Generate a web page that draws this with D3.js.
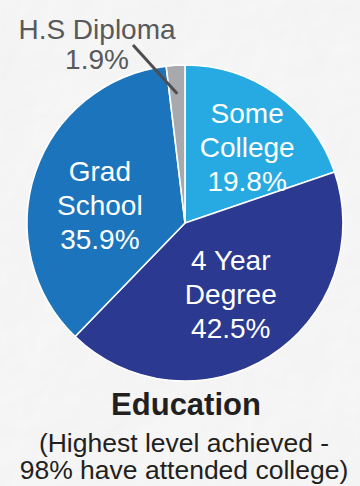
<!DOCTYPE html>
<html>
<head>
<meta charset="utf-8">
<script src="https://cdn.jsdelivr.net/npm/d3@7"></script>
<style>
  html, body { margin: 0; padding: 0; background: #f4f4f4; }
  svg { display: block; }
  text { font-family: "Liberation Sans", Arial, Helvetica, sans-serif; }
</style>
</head>
<body>
<svg id="chart" width="360" height="486"></svg>
<script>
// Education breakdown (highest level achieved)
const categories = ["Some College", "4 Year Degree", "Grad School", "H.S Diploma"];
const values = [19.8, 42.5, 35.9, 1.9];
const nameLines = [["Some", "College"], ["4 Year", "Degree"], ["Grad", "School"], ["H.S Diploma"]];
const colors = ["#27AAE1", "#2B3990", "#1C75BC", "#A7A9AC"];
const title = "Education";
const subtitle = ["(Highest level achieved -", "98% have attended college)"];

const W = 360, H = 486;
const cx = 185, cy = 223, R = 158;
const fmt = v => d3.format(".1f")(v) + "%";

// small hand adjustments of the in-slice label blocks (px)
const labelNudge = {
  "Some College": [8, 0],
  "4 Year Degree": [-4, -8],
  "Grad School": [3, 12]
};

const svg = d3.select("#chart");
const defs = svg.append("defs");

// crumpled paper backdrop
const f = defs.append("filter").attr("id", "paper")
  .attr("x", 0).attr("y", 0).attr("width", "100%").attr("height", "100%");
f.append("feTurbulence").attr("type", "fractalNoise").attr("baseFrequency", 0.011)
  .attr("numOctaves", 4).attr("seed", 11).attr("result", "noise");
f.append("feDiffuseLighting").attr("in", "noise").attr("lighting-color", "#ffffff")
  .attr("surfaceScale", 3).attr("result", "light")
  .append("feDistantLight").attr("azimuth", 225).attr("elevation", 62);

svg.append("rect").attr("width", W).attr("height", H).attr("fill", "#f7f7f7");
svg.append("rect").attr("width", W).attr("height", H)
  .attr("filter", "url(#paper)").attr("opacity", 0.32);

const data = categories.map((c, i) => ({ name: c, value: values[i], lines: nameLines[i], color: colors[i] }));

const pie = d3.pie().sort(null).value(d => d.value).startAngle(0).endAngle(2 * Math.PI);
const arcs = pie(data);

const arc = d3.arc().innerRadius(0).outerRadius(R);
const labelArc = d3.arc().innerRadius(93).outerRadius(93);

const g = svg.append("g").attr("transform", `translate(${cx},${cy})`);

g.selectAll("path.slice")
  .data(arcs)
  .join("path")
  .attr("class", "slice")
  .attr("d", arc)
  .attr("fill", d => d.data.color)
  .attr("stroke", "#ffffff")
  .attr("stroke-width", 1.6)
  .attr("stroke-linejoin", "round");

// inside labels for the three large slices
const lineH = 34;
const inside = arcs.filter(d => d.data.value > 5);
const lbl = g.selectAll("g.lbl")
  .data(inside)
  .join("g")
  .attr("class", "lbl")
  .attr("transform", d => {
    const [x, y] = labelArc.centroid(d);
    const [nx, ny] = labelNudge[d.data.name] || [0, 0];
    return `translate(${x + nx},${y + ny})`;
  });

lbl.each(function (d) {
  const lines = d.data.lines.concat([fmt(d.data.value)]);
  const n = lines.length;
  d3.select(this).selectAll("text")
    .data(lines)
    .join("text")
    .attr("x", 0)
    .attr("y", (t, i) => (i - (n - 1) / 2) * lineH + 10)
    .attr("text-anchor", "middle")
    .attr("fill", "#ffffff")
    .attr("font-size", 28)
    .text(t => t);
});

// outside label with leader line for the small slice
const small = arcs.filter(d => d.data.value <= 5)[0];
const leaderArc = d3.arc().innerRadius(R * 0.82).outerRadius(R * 0.82);
const [ex, ey] = leaderArc.centroid(small);
const outLines = small.data.lines.concat([fmt(small.data.value)]);

svg.append("line")
  .attr("x1", 133).attr("y1", 45)
  .attr("x2", cx + ex).attr("y2", cy + ey)
  .attr("stroke", "#4d4d4f")
  .attr("stroke-width", 3);

svg.selectAll("text.out")
  .data(outLines)
  .join("text")
  .attr("class", "out")
  .attr("x", 97)
  .attr("y", (t, i) => 39 + i * 30)
  .attr("text-anchor", "middle")
  .attr("fill", "#58595b")
  .attr("font-size", 28)
  .text(t => t);

// title block
svg.append("text")
  .attr("x", 186).attr("y", 415)
  .attr("text-anchor", "middle")
  .attr("font-size", 31)
  .attr("font-weight", "bold")
  .attr("fill", "#231f20")
  .text(title);

svg.selectAll("text.sub")
  .data(subtitle)
  .join("text")
  .attr("class", "sub")
  .attr("x", 184)
  .attr("y", (t, i) => 452 + i * 27)
  .attr("text-anchor", "middle")
  .attr("font-size", 26.5)
  .attr("fill", "#231f20")
  .text(t => t);
</script>
</body>
</html>
